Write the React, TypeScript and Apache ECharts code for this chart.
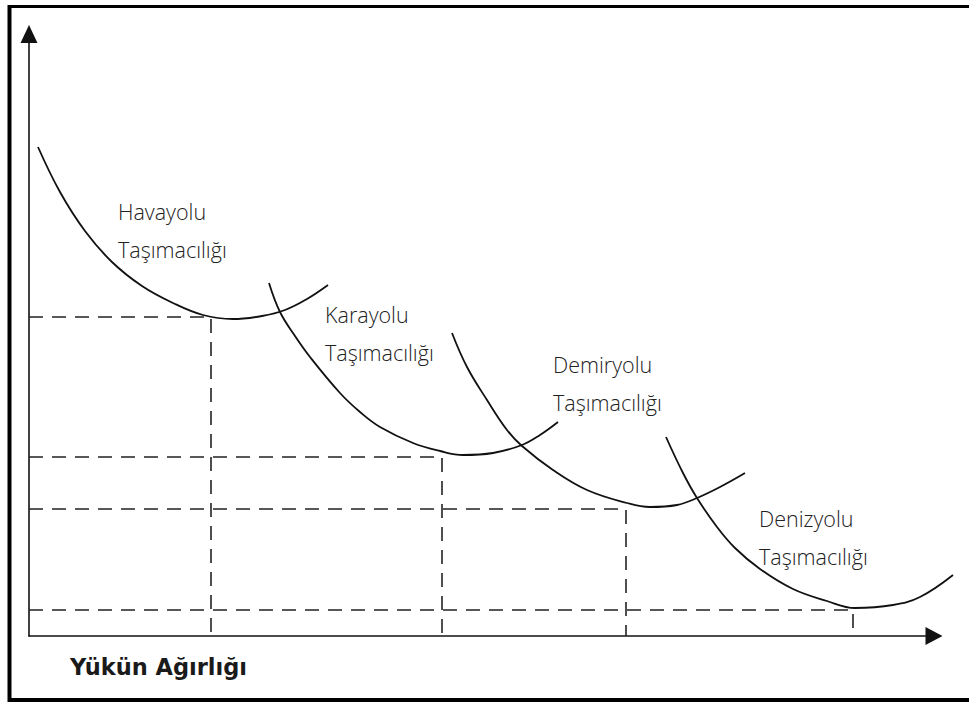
import React, { useEffect, useRef } from 'react';
import * as echarts from 'echarts';

// Axis extents (abstract units)
const X_MAX = 905;
const Y_MAX = 602;
const X_PLOT_MAX = 935; // plotting extent (curves run past the arrow)

const modeNames = ['Havayolu', 'Karayolu', 'Demiryolu', 'Denizyolu'];
const secondLine = 'Taşımacılığı';
const xAxisTitle = 'Yükün Ağırlığı';

// Cost curves (x: load weight, y: unit cost)
const havayoluX = [9, 31, 56, 83, 113, 144, 174, 204, 233, 256, 278, 299];
const havayoluY = [489, 444, 405, 374, 350, 333, 321, 317, 320, 326, 337, 351];

const karayoluX = [240, 251, 266, 281, 311, 331, 351, 384, 411, 434, 464, 493, 511, 529];
const karayoluY = [353, 324, 300, 279, 243, 224, 209, 193, 185, 181, 183, 191, 201, 214];

const demiryoluX = [423, 438, 458, 478, 493, 524, 558, 598, 621, 648, 668, 691, 716];
const demiryoluY = [303, 269, 236, 206, 190, 166, 146, 133, 129, 131, 138, 149, 163];

const denizyoluX = [637, 654, 668, 688, 706, 731, 764, 798, 826, 864, 891, 924];
const denizyoluY = [199, 163, 138, 109, 88, 67, 47, 35, 28, 31, 39, 61];

// Minimum-cost points of each curve
const minX = [182, 413, 597, 824];
const minY = [319, 179, 127, 26];

const curvesX = [havayoluX, karayoluX, demiryoluX, denizyoluX];
const curvesY = [havayoluY, karayoluY, demiryoluY, denizyoluY];

export default function App() {
  const ref = useRef<HTMLDivElement>(null);

  useEffect(() => {
    if (!ref.current) return;
    const chart = echarts.init(ref.current, undefined, { renderer: 'svg' });

    const curveSeries = curvesX.map((xs, i) => ({
      type: 'line',
      name: modeNames[i],
      xAxisIndex: 1,
      yAxisIndex: 1,
      data: xs.map((x, j) => [x, curvesY[i][j]]),
      smooth: 0.4,
      showSymbol: false,
      symbol: 'none',
      clip: false,
      silent: true,
      lineStyle: { color: '#111', width: 1.8 },
      z: 3,
    }));

    const dashSeries = minX.map((mx, i) => ({
      type: 'line',
      xAxisIndex: 1,
      yAxisIndex: 1,
      data: [[0, minY[i]], [mx, minY[i]], [mx, 0]],
      showSymbol: false,
      symbol: 'none',
      silent: true,
      lineStyle: { color: '#222', width: 1.6, type: [14, 9] },
      z: 2,
    }));

    const labelPos = [
      [118, 230],
      [325, 333],
      [553, 383],
      [759, 537],
    ];

    const hiddenAxis = {
      axisLine: { show: false },
      axisTick: { show: false },
      axisLabel: { show: false },
      splitLine: { show: false },
    };

    const option: any = {
      animation: false,
      backgroundColor: '#fff',
      grid: [
        { left: 29, top: 34, width: 905, height: 602, containLabel: false },
        { left: 29, top: 34, width: 935, height: 602, containLabel: false },
      ],
      xAxis: [
        {
          type: 'value',
          gridIndex: 0,
          min: 0,
          max: X_MAX,
          axisLine: {
            show: true,
            symbol: ['none', 'triangle'],
            symbolSize: [18, 17],
            lineStyle: { color: '#111', width: 1.6 },
          },
          axisTick: { show: false },
          axisLabel: { show: false },
          splitLine: { show: false },
        },
        { type: 'value', gridIndex: 1, min: 0, max: X_PLOT_MAX, ...hiddenAxis },
      ],
      yAxis: [
        {
          type: 'value',
          gridIndex: 0,
          min: 0,
          max: Y_MAX,
          axisLine: {
            show: true,
            symbol: ['none', 'triangle'],
            symbolSize: [17, 18],
            lineStyle: { color: '#111', width: 1.6 },
          },
          axisTick: { show: false },
          axisLabel: { show: false },
          splitLine: { show: false },
        },
        { type: 'value', gridIndex: 1, min: 0, max: Y_MAX, ...hiddenAxis },
      ],
      series: [...dashSeries, ...curveSeries],
      graphic: [
        { type: 'line', shape: { x1: 9.5, y1: 5, x2: 9.5, y2: 702 }, style: { stroke: '#000', lineWidth: 4 } },
        { type: 'line', shape: { x1: 8, y1: 6.5, x2: 969, y2: 6.5 }, style: { stroke: '#000', lineWidth: 3 } },
        { type: 'line', shape: { x1: 8, y1: 700, x2: 969, y2: 700 }, style: { stroke: '#000', lineWidth: 4 } },
        ...modeNames.map((n, i) => ({
          type: 'text',
          x: labelPos[i][0],
          y: labelPos[i][1],
          style: {
            text: n + '\n' + secondLine,
            fontSize: 21.5,
            fontWeight: 300,
            fontFamily: 'Open Sans',
            fill: '#222',
            verticalAlign: 'middle',
            align: 'left',
            lineHeight: 38,
          },
        })),
        {
          type: 'text',
          x: 70,
          y: 667,
          style: {
            text: xAxisTitle,
            fontSize: 22.5,
            fontWeight: 'bold',
            fontFamily: 'DejaVu Sans',
            fill: '#1a1a1a',
            verticalAlign: 'middle',
            align: 'left',
          },
        },
      ],
    };

    chart.setOption(option);
    return () => chart.dispose();
  }, []);

  return (
    <div
      ref={ref}
      style={{ position: 'fixed', left: 0, top: 0, width: 969, height: 703, background: '#fff' }}
    />
  );
}
